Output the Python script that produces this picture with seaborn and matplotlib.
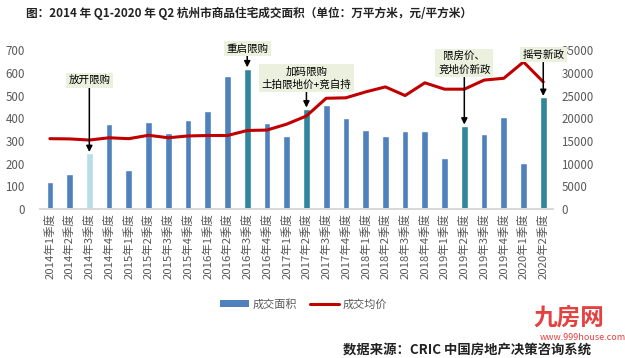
import numpy as np
import pandas as pd
import seaborn as sns
import matplotlib.pyplot as plt
from matplotlib.patches import Patch
from matplotlib.lines import Line2D

quarters = [
    "2014年1季度", "2014年2季度", "2014年3季度", "2014年4季度",
    "2015年1季度", "2015年2季度", "2015年3季度", "2015年4季度",
    "2016年1季度", "2016年2季度", "2016年3季度", "2016年4季度",
    "2017年1季度", "2017年2季度", "2017年3季度", "2017年4季度",
    "2018年1季度", "2018年2季度", "2018年3季度", "2018年4季度",
    "2019年1季度", "2019年2季度", "2019年3季度", "2019年4季度",
    "2020年1季度", "2020年2季度",
]
area = [119, 154, 245, 373, 174, 384, 334, 392, 432, 584, 618, 379, 322,
        441, 457, 400, 350, 322, 346, 343, 224, 366, 332, 404, 204, 492]
price = [15500, 15450, 15200, 15700, 15500, 16250, 15700, 16100, 16200,
         16200, 17300, 17400, 18700, 20500, 24400, 24500, 25800, 26900,
         25000, 27800, 26400, 26400, 28400, 28800, 32400, 28000]

# policy notes: (quarter, text)
notes = [
    ("2014年3季度", "放开限购"),
    ("2016年3季度", "重启限购"),
    ("2017年2季度", "加码限购\n土拍限地价+竞自持"),
    ("2019年2季度", "限房价、\n竞地价新政"),
    ("2020年2季度", "摇号新政"),
]

BLUE = "#4f81bd"
TEAL = "#31859c"
LIGHT = "#b7dde8"
RED = "#c00000"
GREY = "#595959"

sns.set_theme(style="white")
plt.rcParams["font.family"] = ["Noto Sans CJK SC", "DejaVu Sans"]

df = pd.DataFrame({"quarter": quarters, "area": area, "price": price})
note_q = [q for q, _ in notes]
colors = {q: (LIGHT if q == "2014年3季度" else TEAL if q in note_q else BLUE)
          for q in quarters}

fig = plt.figure(figsize=(6.25, 3.58), dpi=100)
ax = fig.add_axes([0.064, 0.416, 0.821, 0.444])
sns.barplot(data=df, x="quarter", y="area", hue="quarter", palette=colors,
            width=0.34, legend=False, ax=ax, saturation=1)
ax2 = ax.twinx()
sns.lineplot(x=np.arange(len(quarters)), y=df["price"], color=RED,
             linewidth=2.2, ax=ax2)

ax.set_xlim(-0.5, len(quarters) - 0.5)
ax.set_ylim(0, 700)
ax2.set_ylim(0, 35000)
ax.set_yticks(range(0, 701, 100))
ax2.set_yticks(range(0, 35001, 5000))
ax.set_xlabel("")
ax.set_ylabel("")
ax2.set_ylabel("")
ax.tick_params(axis="y", labelsize=8.3, colors=GREY, length=0, pad=11)
ax2.tick_params(axis="y", labelsize=8.3, colors=GREY, length=0, pad=6)
ax.tick_params(axis="x", labelsize=8.2, colors=GREY, length=0, pad=3)
plt.setp(ax.get_xticklabels(), rotation=90)
for a in (ax, ax2):
    for s in ("top", "left", "right"):
        a.spines[s].set_visible(False)
    a.spines["bottom"].set_color("#d9d9d9")
ax.grid(False)
ax2.grid(False)

box = dict(boxstyle="square,pad=0.25", facecolor="#ebf1de", edgecolor="none")
offsets = {"2014年3季度": 49, "2016年3季度": 11, "2017年2季度": 14,
           "2019年2季度": 37, "2020年2季度": 27}
for q, txt in notes:
    i = quarters.index(q)
    ax2.annotate(txt, xy=(i, area[i] * 50), xycoords="data",
                 xytext=(0, offsets[q]), textcoords="offset points",
                 ha="center", va="bottom", fontsize=7.6, color="black",
                 bbox=box, linespacing=1.3,
                 arrowprops=dict(arrowstyle="-|>", color="black", lw=1.1,
                                 mutation_scale=9, shrinkA=0, shrinkB=1))

fig.text(0.041, 0.964, "图：2014 年 Q1-2020 年 Q2 杭州市商品住宅成交面积（单位：万平方米，元/平方米）",
         fontsize=8.4, fontweight="bold", color="#222222", ha="left", va="center")

handles = [Patch(facecolor=BLUE, edgecolor="none"),
           Line2D([0], [0], color=RED, lw=2.2)]
fig.legend(handles, ["成交面积", "成交均价"], loc="center",
           bbox_to_anchor=(0.486, 0.15), ncol=2, frameon=False,
           fontsize=8, labelcolor=GREY, handlelength=2.6, handleheight=0.6,
           columnspacing=1.2, handletextpad=0.3)

# watermark
fig.text(0.91, 0.112, "九房网", fontsize=17, color="#e02020", alpha=0.85,
         ha="center", va="center", fontweight="bold")
fig.text(0.933, 0.058, "www.999house.com", fontsize=6.5, color="#e02020",
         alpha=0.85, ha="center", va="center")
fig.text(0.747, 0.022, "数据来源：CRIC 中国房地产决策咨询系统", fontsize=9.6,
         fontweight="bold", color="#222222", ha="center", va="center")

fig.savefig("out.png", dpi=100, facecolor="white")
